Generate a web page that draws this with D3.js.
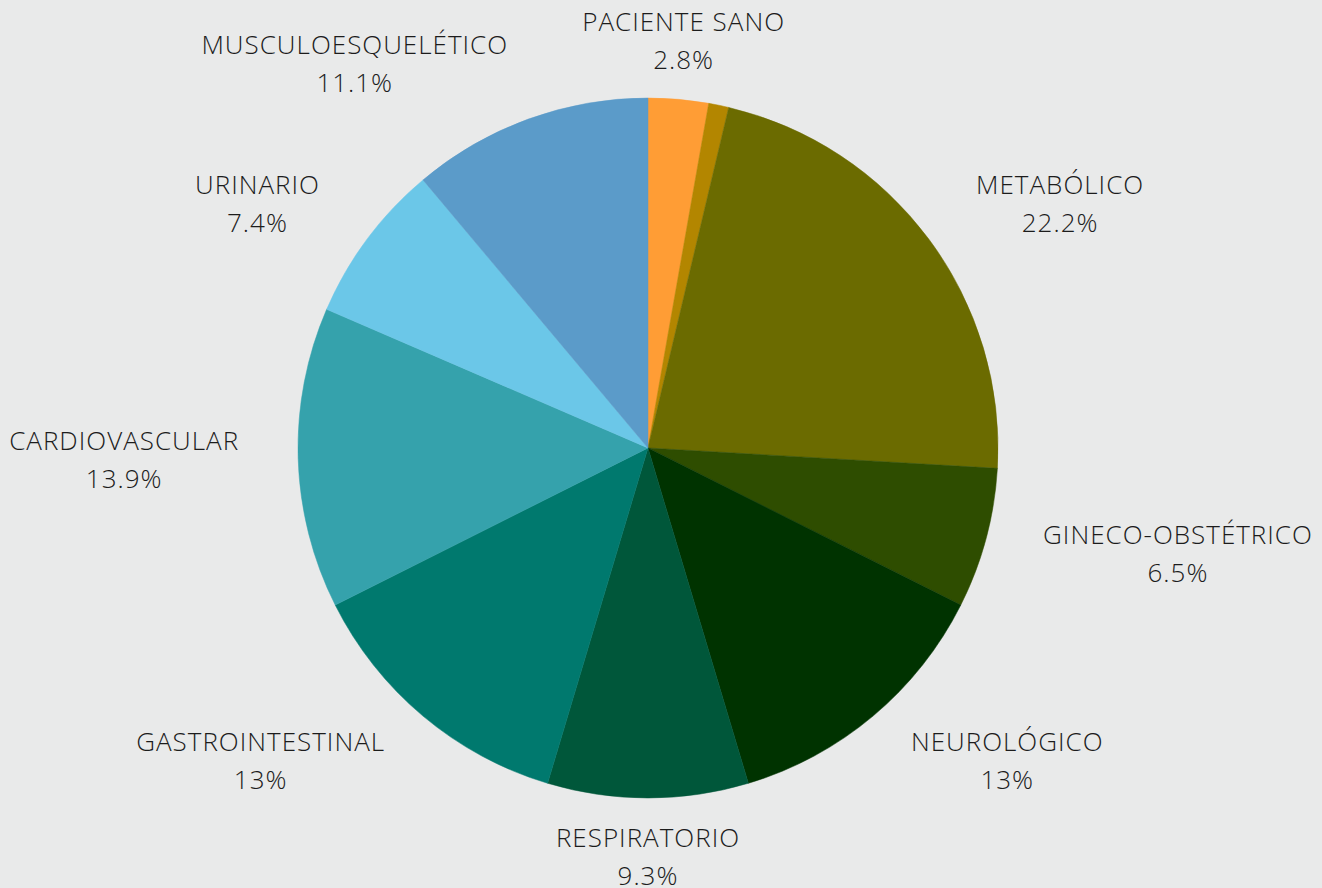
<!DOCTYPE html>
<html>
<head>
<meta charset="utf-8">
<script src="https://cdn.jsdelivr.net/npm/d3@7"></script>
<style>
  html, body { margin: 0; padding: 0; background: #e9eaea; }
  svg { display: block; }
  text { font-family: "Open Sans", sans-serif; font-weight: 300; fill: #1c1c1c; letter-spacing: 1px; }
</style>
</head>
<body>
<svg id="chart" width="1322" height="888"></svg>
<script>
// categories in clockwise order from 12 o'clock; counts out of 108
const categories = ['PACIENTE SANO', '', 'METABÓLICO', 'GINECO-OBSTÉTRICO', 'NEUROLÓGICO',
  'RESPIRATORIO', 'GASTROINTESTINAL', 'CARDIOVASCULAR', 'URINARIO', 'MUSCULOESQUELÉTICO'];
const counts = [3, 1, 24, 7, 14, 10, 14, 15, 8, 12];
const pctLabels = ['2.8%', '', '22.2%', '6.5%', '13%', '9.3%', '13%', '13.9%', '7.4%', '11.1%'];
const colors = ['#ff9d35', '#b38600', '#6b6b00', '#2e4d00', '#003300',
  '#00573a', '#00796e', '#35a2ac', '#6bc7e8', '#5b9bc9'];

const W = 1322, H = 888;
const cx = 648, cy = 448, R = 350, labelR = 409;

const svg = d3.select('#chart');

svg.append('rect').attr('width', W).attr('height', H).attr('fill', '#e9eaea');

const data = categories.map((c, i) => ({ name: c, value: counts[i], pct: pctLabels[i], color: colors[i] }));

const pie = d3.pie().value(d => d.value).sort(null);
const arc = d3.arc().innerRadius(0).outerRadius(R);
const arcs = pie(data);

const g = svg.append('g').attr('transform', `translate(${cx},${cy})`);

g.selectAll('path.slice').data(arcs).enter().append('path')
  .attr('class', 'slice')
  .attr('d', arc)
  .attr('fill', d => d.data.color)
  .attr('stroke', d => d.data.color)
  .attr('stroke-width', 0.5);

// labels: anchor point on a circle at the mid-angle, block anchored by side
g.selectAll('g.label').data(arcs.filter(d => d.data.name)).enter().append('g')
  .attr('class', 'label')
  .each(function(d) {
    const a = (d.startAngle + d.endAngle) / 2;
    const s = Math.sin(a), c = Math.cos(a);
    const px = labelR * s, py = -labelR * c;
    const sel = d3.select(this);
    const t1 = sel.append('text').attr('y', py - 19).attr('dy', '0.35em')
      .attr('text-anchor', 'middle').style('font-size', '26px').text(d.data.name);
    const t2 = sel.append('text').attr('y', py + 19).attr('dy', '0.35em')
      .attr('text-anchor', 'middle').style('font-size', '26px').text(d.data.pct);
    const w = Math.max(t1.node().getComputedTextLength(), t2.node().getComputedTextLength());
    let mx = px;
    if (s > 0.2) mx = px + w / 2;
    else if (s < -0.2) mx = px - w / 2;
    t1.attr('x', mx);
    t2.attr('x', mx);
  });
</script>
</body>
</html>
